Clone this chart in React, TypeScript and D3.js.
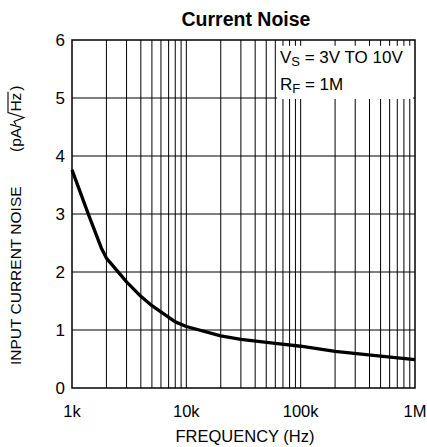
import React from "react";
import * as d3 from "d3";

const freqHz = [1000, 1400, 1800, 2000, 3000, 4000, 5000, 8000, 10000, 20000, 30000, 60000, 100000, 200000, 500000, 1000000];
const noise = [3.76, 2.98, 2.42, 2.24, 1.83, 1.58, 1.42, 1.14, 1.06, 0.9, 0.84, 0.77, 0.72, 0.63, 0.55, 0.49];
const xTickValues = [1e3, 1e4, 1e5, 1e6];
const xTickLabels = ["1k", "10k", "100k", "1M"];
const yTickValues = [0, 1, 2, 3, 4, 5, 6];

const W = 427, H = 447;
const L = 72, R = 415, T = 40, B = 388;
const FONT = "Liberation Sans, Arial, sans-serif";

export default function App() {
  const x = d3.scaleLog().domain([1e3, 1e6]).range([L, R]);
  const y = d3.scaleLinear().domain([0, 6]).range([B, T]);
  const minor: number[] = [];
  for (let dec = 1e3; dec < 1e6; dec *= 10) {
    for (let m = 2; m <= 9; m++) minor.push(dec * m);
  }
  minor.push(1e4, 1e5);
  const line = d3.line<number>().x((_, i) => x(freqHz[i])).y((d) => y(d));
  const boxX0 = x(62000), boxY0 = y(5.9), boxY1 = y(5.0) + 1;
  const fs = 15.5;
  const unitA = 1.834 * fs; // width of "(pA/"
  const radW = 11;
  const hzW = 1.222 * fs;
  return (
    <svg width={W} height={H} style={{ position: "absolute", left: 0, top: 0, background: "#fff" }} fontFamily={FONT}>
      <rect x={0} y={0} width={W} height={H} fill="#fff" />
      {minor.map((f, i) => (
        <line key={"v" + i} x1={x(f)} x2={x(f)} y1={T} y2={B} stroke="#000" strokeWidth={1} />
      ))}
      {yTickValues.slice(1, 6).map((v) => (
        <line key={"h" + v} x1={L} x2={R} y1={y(v)} y2={y(v)} stroke="#000" strokeWidth={1} />
      ))}
      <rect x={boxX0} y={boxY0} width={R - 2 - boxX0} height={boxY1 - boxY0} fill="#fff" />
      <rect x={L} y={T} width={R - L} height={B - T} fill="none" stroke="#000" strokeWidth={1.5} />
      <path d={line(noise) || ""} fill="none" stroke="#000" strokeWidth={3.3} strokeLinejoin="round" />
      <text x={boxX0 + 3} y={63} fontSize={17}>
        V<tspan fontSize={13} dy={3}>S</tspan><tspan dy={-3}> = 3V TO 10V</tspan>
      </text>
      <text x={boxX0 + 3} y={90} fontSize={17}>
        R<tspan fontSize={13} dy={3}>F</tspan><tspan dy={-3}> = 1M</tspan>
      </text>
      <text x={246} y={26} fontSize={19.5} fontWeight="bold" textAnchor="middle">Current Noise</text>
      {yTickValues.map((v) => (
        <text key={"yt" + v} x={L - 7} y={y(v) + 6} fontSize={17} textAnchor="end">{v}</text>
      ))}
      {xTickValues.map((v, i) => (
        <text key={"xt" + v} x={x(v)} y={417} fontSize={16.5} textAnchor="middle">{xTickLabels[i]}</text>
      ))}
      <text x={245} y={442} fontSize={16.5} textAnchor="middle">FREQUENCY (Hz)</text>
      <text transform="translate(21,365) rotate(-90)" fontSize={fs}>
        INPUT CURRENT NOISE
      </text>
      <g transform="translate(21,152) rotate(-90)">
        <text x={0} y={0} fontSize={fs}>(pA/</text>
        <path
          d={`M${unitA - 1},${-5} L${unitA + 2},${-7} L${unitA + 6},${3} L${unitA + radW},${-13} L${unitA + radW + hzW + 2},${-13}`}
          fill="none"
          stroke="#000"
          strokeWidth={1.1}
        />
        <text x={unitA + radW + 1} y={0} fontSize={fs}>Hz</text>
        <text x={unitA + radW + hzW + 3} y={0} fontSize={fs}>)</text>
      </g>
    </svg>
  );
}
